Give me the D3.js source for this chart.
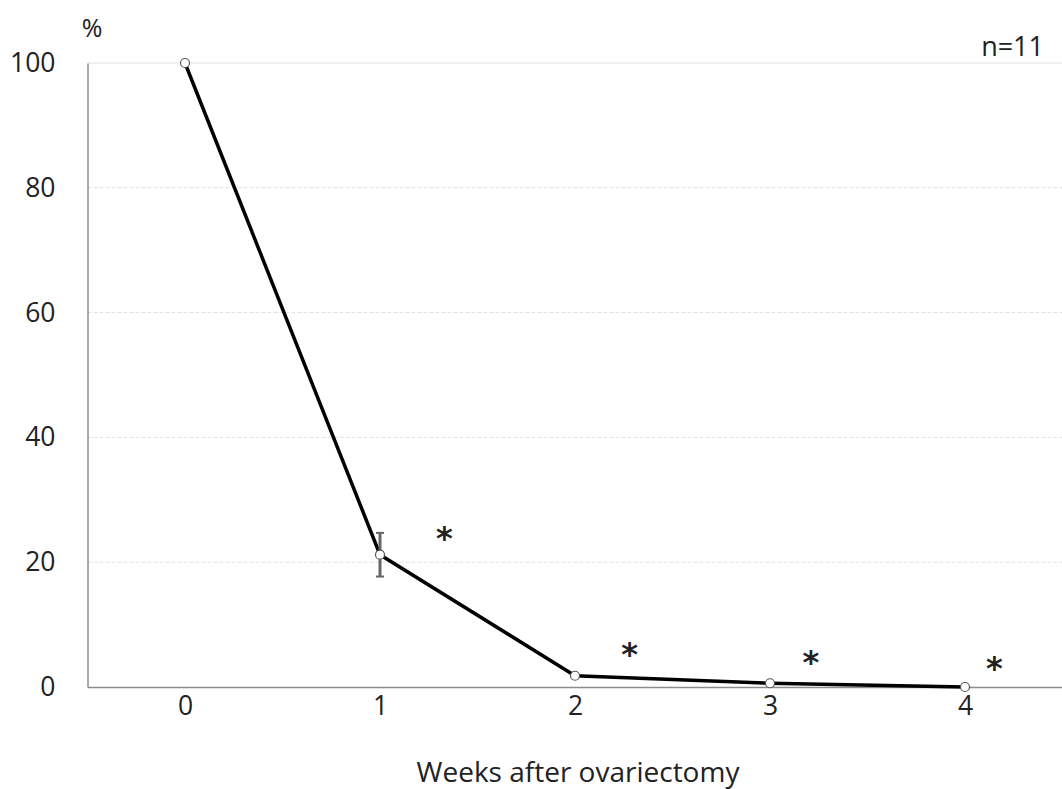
<!DOCTYPE html>
<html>
<head>
<meta charset="utf-8">
<script src="https://cdn.jsdelivr.net/npm/d3@7"></script>
<style>
    body { margin: 0; background: #fff; }
    text { font-family: "Open Sans", "Liberation Sans", sans-serif; fill: #222; }
</style>
</head>
<body>
<div id="chart"></div>
<script>
// weeks after ovariectomy and mean %
var weeks = [0, 1, 2, 3, 4];
var values = [100, 21.2, 1.8, 0.6, 0];
var errors = [0, 3.5, 0, 0, 0];

// significance marks (x in week units, y in %)
var starX = [1.33, 2.28, 3.21, 4.15];
var starY = [24.4, 5.8, 4.5, 3.5];

var yTicks = [0, 20, 40, 60, 80, 100];

var width = 1062, height = 789;
var margin = {top: 63, right: 0, bottom: 102, left: 87.5};

var svg = d3.select('#chart')
    .append('svg')
    .attr('width', width)
    .attr('height', height);

var xScale = d3.scaleLinear()
    .domain([-0.5, 4.5])
    .range([margin.left, 1062.5]);

var yScale = d3.scaleLinear()
    .domain([0, 100])
    .range([height - margin.bottom, margin.top]);

// gridlines
svg.append('g')
    .selectAll('line')
    .data(yTicks.filter(function(d){ return d > 0; }))
    .enter().append('line')
    .attr('x1', margin.left)
    .attr('x2', width)
    .attr('y1', function(d){ return yScale(d); })
    .attr('y2', function(d){ return yScale(d); })
    .attr('stroke', '#e0e0e0')
    .attr('stroke-width', 1)
    .attr('stroke-dasharray', function(d){ return d === 100 ? null : '4,2'; });

var yAxis = d3.axisLeft(yScale)
    .tickValues(yTicks)
    .tickSize(0)
    .tickPadding(32);

var gY = svg.append('g')
    .attr('transform', 'translate(' + margin.left + ',0)')
    .call(yAxis);
gY.select('path.domain').attr('stroke', '#8c8c8c').attr('stroke-width', 1.5);
gY.selectAll('text').style('font-size', '26.5px').attr('fill', '#222');

var xAxis = d3.axisBottom(xScale)
    .tickValues(weeks)
    .tickSize(0)
    .tickPadding(9)
    .tickFormat(d3.format('d'));

var gX = svg.append('g')
    .attr('transform', 'translate(0,' + yScale(0) + ')')
    .call(xAxis);
gX.select('path.domain').attr('stroke', '#8c8c8c').attr('stroke-width', 1.5);
gX.selectAll('text').style('font-size', '26.5px').attr('fill', '#222');

// data line
var data = weeks.map(function(w, i){ return {w: w, v: values[i], e: errors[i]}; });

var line = d3.line()
    .x(function(d){ return xScale(d.w); })
    .y(function(d){ return yScale(d.v); });

svg.append('path')
    .datum(data)
    .attr('d', line)
    .attr('fill', 'none')
    .attr('stroke', '#000')
    .attr('stroke-width', 3.5);

// error bars
var eb = svg.append('g')
    .selectAll('g')
    .data(data.filter(function(d){ return d.e > 0; }))
    .enter().append('g');

eb.append('line')
    .attr('x1', function(d){ return xScale(d.w); })
    .attr('x2', function(d){ return xScale(d.w); })
    .attr('y1', function(d){ return yScale(d.v + d.e); })
    .attr('y2', function(d){ return yScale(d.v - d.e); })
    .attr('stroke', '#666')
    .attr('stroke-width', 3);

[1, -1].forEach(function(s){
    eb.append('line')
        .attr('x1', function(d){ return xScale(d.w) - 4; })
        .attr('x2', function(d){ return xScale(d.w) + 4; })
        .attr('y1', function(d){ return yScale(d.v + s * d.e); })
        .attr('y2', function(d){ return yScale(d.v + s * d.e); })
        .attr('stroke', '#666')
        .attr('stroke-width', 2);
});

// markers
svg.append('g')
    .selectAll('circle')
    .data(data)
    .enter().append('circle')
    .attr('cx', function(d){ return xScale(d.w); })
    .attr('cy', function(d){ return yScale(d.v); })
    .attr('r', 4.5)
    .attr('fill', '#fff')
    .attr('stroke', '#555')
    .attr('stroke-width', 1.2);

// asterisks
svg.append('g')
    .selectAll('text')
    .data(starX)
    .enter().append('text')
    .attr('x', function(d){ return xScale(d); })
    .attr('y', function(d, i){ return yScale(starY[i]); })
    .attr('text-anchor', 'middle')
    .attr('dy', '0.43em')
    .style('font-size', '32px')
    .style('font-weight', 'bold')
    .style('font-family', '"DejaVu Sans", sans-serif')
    .attr('fill', '#000')
    .text('*');

// labels
svg.append('text')
    .attr('x', 92)
    .attr('y', 37)
    .attr('text-anchor', 'middle')
    .style('font-size', '25px')
    .text('%');

svg.append('text')
    .attr('x', 1044)
    .attr('y', 56)
    .attr('text-anchor', 'end')
    .style('font-size', '27px')
    .text('n=11');

svg.append('text')
    .attr('x', xScale(2) + 3)
    .attr('y', 782)
    .attr('text-anchor', 'middle')
    .style('font-size', '28px')
    .text('Weeks after ovariectomy');
</script>
</body>
</html>
